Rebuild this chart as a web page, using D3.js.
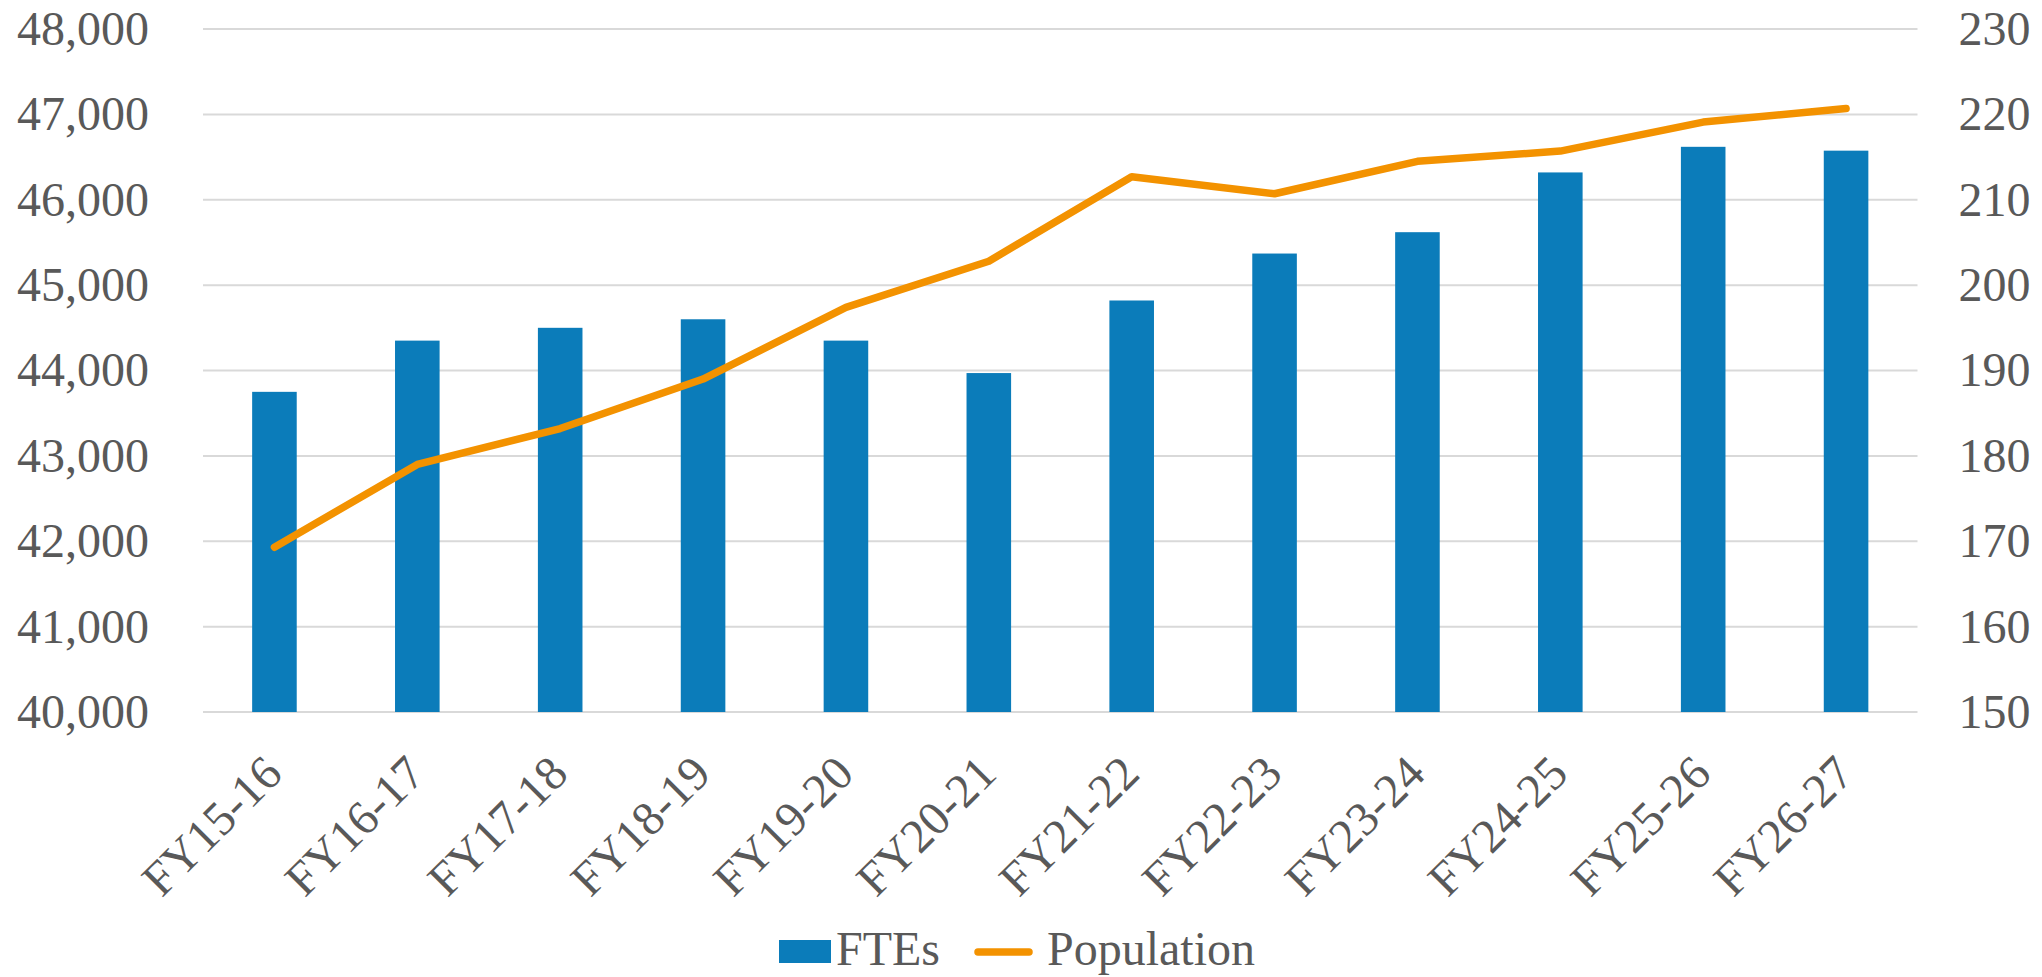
<!DOCTYPE html>
<html>
<head>
<meta charset="utf-8">
<script src="https://cdn.jsdelivr.net/npm/d3@7"></script>
<style>
  body { margin: 0; background: #fff; }
  svg text { font-family: "Liberation Serif", "Times New Roman", serif; fill: #595959; }
</style>
</head>
<body>
<div id="dataviz"></div>
<script>
// data
var years = ["FY15-16", "FY16-17", "FY17-18", "FY18-19", "FY19-20", "FY20-21",
             "FY21-22", "FY22-23", "FY23-24", "FY24-25", "FY25-26", "FY26-27"];
var ftes = [43750, 44350, 44500, 44600, 44350, 43970, 44820, 45370, 45620, 46320, 46620, 46575];
var population = [169.3, 179.0, 183.2, 189.0, 197.4, 202.8, 212.7, 210.7, 214.5, 215.7, 219.1, 220.7];
var leftTicks = [40000, 41000, 42000, 43000, 44000, 45000, 46000, 47000, 48000];
var rightTicks = [150, 160, 170, 180, 190, 200, 210, 220, 230];

var W = 2042, H = 977;
var plot = {left: 203, right: 1917.5, top: 29, bottom: 712};
var serif = '"Liberation Serif", "Times New Roman", serif';

var svg = d3.select("#dataviz")
  .append("svg")
    .attr("width", W)
    .attr("height", H);

// scales
var x = d3.scaleBand()
  .domain(years)
  .range([plot.left, plot.right])
  .paddingInner(0.688)
  .paddingOuter(0.344);

var yLeft = d3.scaleLinear().domain([40000, 48000]).range([plot.bottom, plot.top]);
var yRight = d3.scaleLinear().domain([150, 230]).range([plot.bottom, plot.top]);

// gridlines
svg.append("g")
  .selectAll("line")
  .data(leftTicks)
  .enter()
  .append("line")
    .attr("x1", plot.left)
    .attr("x2", plot.right)
    .attr("y1", function(d){ return yLeft(d); })
    .attr("y2", function(d){ return yLeft(d); })
    .attr("stroke", "#d9d9d9")
    .attr("stroke-width", 2);

// helper: style axis text the Excel way
function styleAxis(g) {
  g.attr("font-family", serif).attr("font-size", 48);
  g.select(".domain").remove();
  g.selectAll("text")
    .style("font-family", serif)
    .style("font-size", "48px")
    .attr("fill", "#595959");
}

// left axis
svg.append("g")
  .attr("transform", "translate(" + plot.left + ",0)")
  .call(d3.axisLeft(yLeft).tickValues(leftTicks).tickSize(0).tickPadding(54).tickFormat(d3.format(",")))
  .call(styleAxis);

// right axis
svg.append("g")
  .attr("transform", "translate(" + plot.right + ",0)")
  .call(d3.axisRight(yRight).tickValues(rightTicks).tickSize(0).tickPadding(41))
  .call(styleAxis);

// bars
svg.selectAll(".bar")
  .data(ftes)
  .enter()
  .append("rect")
    .classed("bar", true)
    .attr("x", function(d, i){ return x(years[i]); })
    .attr("y", function(d){ return yLeft(d); })
    .attr("width", x.bandwidth())
    .attr("height", function(d){ return plot.bottom - yLeft(d); })
    .attr("fill", "#0b7cba");

// population line
var line = d3.line()
  .x(function(d, i){ return x(years[i]) + x.bandwidth()/2; })
  .y(function(d){ return yRight(d); });

svg.append("path")
  .datum(population)
  .attr("d", line)
  .attr("fill", "none")
  .attr("stroke", "#f39200")
  .attr("stroke-width", 7.5)
  .attr("stroke-linecap", "round")
  .attr("stroke-linejoin", "round");

// x axis labels, rotated
var bottomAxis = svg.append("g")
  .attr("transform", "translate(0," + plot.bottom + ")")
  .call(d3.axisBottom(x).tickSize(0).tickPadding(0))
  .call(styleAxis);
bottomAxis.selectAll("text")
  .attr("dy", null)
  .attr("y", 0)
  .style("text-anchor", "end")
  .attr("transform", "translate(10,64) rotate(-45)");

// legend
var legend = svg.append("g");
legend.append("rect")
  .attr("x", 779).attr("y", 940)
  .attr("width", 52).attr("height", 23)
  .attr("fill", "#0b7cba");
legend.append("text")
  .attr("x", 836).attr("y", 965)
  .style("font-size", "48px")
  .text("FTEs");
legend.append("line")
  .attr("x1", 978).attr("x2", 1029)
  .attr("y1", 952).attr("y2", 952)
  .attr("stroke", "#f39200")
  .attr("stroke-width", 7.5)
  .attr("stroke-linecap", "round");
legend.append("text")
  .attr("x", 1047).attr("y", 965)
  .style("font-size", "48px")
  .text("Population");
</script>
</body>
</html>
